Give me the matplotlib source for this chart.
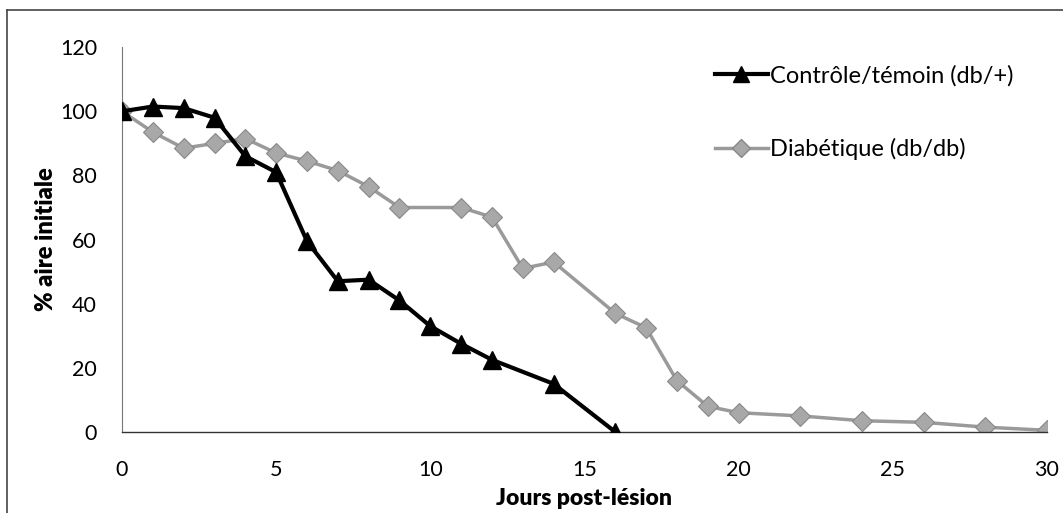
import matplotlib
matplotlib.use('Agg')
import matplotlib.pyplot as plt
from matplotlib.lines import Line2D

# ── Data ───────────────────────────────────────────────────────────────────────
days_ctrl = [0, 1, 2, 3, 4, 5, 6, 7, 8, 9, 10, 11, 12, 14, 16]
area_ctrl = [100, 101.5, 101, 98, 86, 81, 59.5, 47, 47.5, 41, 33, 27.5, 22.5, 15, 0]

days_diab = [0, 1, 2, 3, 4, 5, 6, 7, 8, 9, 11, 12, 13, 14, 16, 17, 18, 19, 20, 22, 24, 26, 28, 30]
area_diab = [100, 93.5, 88.5, 90, 91.5, 87, 84.5, 81.5, 76.5, 70, 70, 67, 51, 53, 37, 32.5, 16,
             8, 6, 5, 3.5, 3, 1.5, 0.5]

label_ctrl = 'Contrôle/témoin (db/+)'
label_diab = 'Diabétique (db/db)'
x_ticks = [0, 5, 10, 15, 20, 25, 30]
y_ticks = [0, 20, 40, 60, 80, 100, 120]

plt.rcParams['font.family'] = ['Lato', 'DejaVu Sans']

fig = plt.figure(figsize=(10.63, 5.13), dpi=100)
ax = fig.add_axes([0.1148, 0.158, 0.870, 0.750])

diab_grey = '#9a9a9a'
ax.plot(days_diab, area_diab, color=diab_grey, lw=2.5, marker='D', markersize=10,
        markerfacecolor='#a8a8a8', markeredgecolor='#888888', markeredgewidth=0.8,
        label=label_diab, zorder=2)
ax.plot(days_ctrl, area_ctrl, color='black', lw=3, marker='^', markersize=13,
        markerfacecolor='black', markeredgecolor='black', label=label_ctrl, zorder=3)

ax.set_xlim(0, 30)
ax.set_ylim(0, 120)
ax.set_xticks(x_ticks)
ax.set_yticks(y_ticks)
ax.tick_params(length=0, labelsize=15.5)
ax.tick_params(axis='x', pad=20)
ax.tick_params(axis='y', pad=18)
for s in ['top', 'right']:
    ax.spines[s].set_visible(False)
ax.spines['left'].set_color('#777777')
ax.spines['left'].set_linewidth(0.8)
ax.spines['bottom'].set_color('#333333')
ax.spines['bottom'].set_linewidth(1.0)

ax.set_xlabel('Jours post-lésion', fontsize=16.5, fontweight='heavy', labelpad=6)
ax.set_ylabel('% aire initiale', fontsize=17, fontweight='heavy', labelpad=2)

handles = [
    Line2D([], [], color='black', lw=3, marker='^', markersize=12),
    Line2D([], [], color=diab_grey, lw=2.5, marker='D', markersize=9,
           markerfacecolor='#a8a8a8', markeredgecolor='#888888'),
]
ax.legend(handles, [label_ctrl, label_diab], loc='upper left', bbox_to_anchor=(0.618, 1.01),
          frameon=False, fontsize=17, handlelength=2.25, handletextpad=0.1, labelspacing=2.2)

# outer frame lines (top and left only remain in the scan)
fig.add_artist(Line2D([0.007, 1.0], [0.981, 0.981], color='#444444', lw=1.2,
                      transform=fig.transFigure))
fig.add_artist(Line2D([0.007, 0.007], [0.0, 0.981], color='#444444', lw=1.2,
                      transform=fig.transFigure))

fig.savefig('out.png', dpi=100)
